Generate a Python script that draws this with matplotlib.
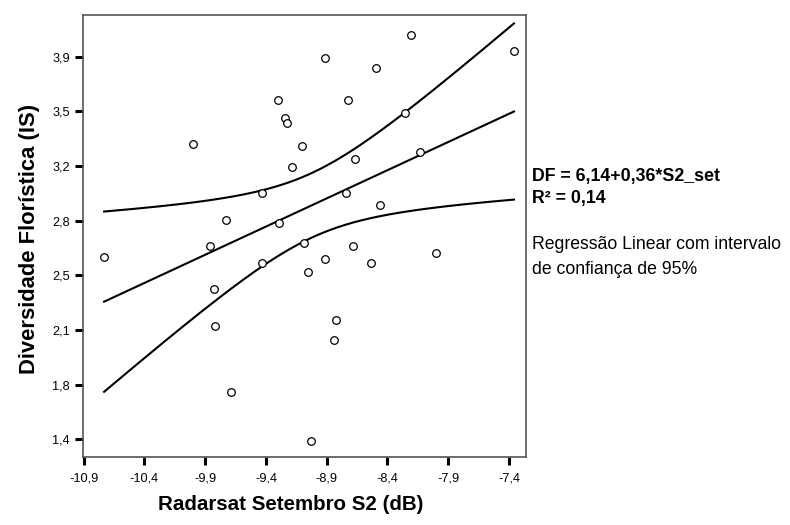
import numpy as np
import matplotlib
matplotlib.use("Agg")
import matplotlib.pyplot as plt

plt.rcParams['font.family'] = ['Liberation Sans', 'DejaVu Sans']

# valores
s2_set = [-10.731, -9.999, -9.859, -9.831, -9.820, -9.732, -9.683, -9.431, -9.431,
          -9.302, -9.294, -9.239, -9.226, -9.189, -9.099, -9.088, -9.050, -9.025,
          -8.913, -8.910, -8.836, -8.825, -8.745, -8.721, -8.685, -8.671, -8.535,
          -8.494, -8.458, -8.255, -8.203, -8.129, -8.003, -7.359]
df_is = [2.565, 3.290, 2.636, 2.360, 2.125, 2.807, 1.703, 2.979, 2.527,
         3.574, 2.783, 3.457, 3.427, 3.145, 3.280, 2.655, 2.469, 1.391,
         3.839, 2.556, 2.038, 2.164, 2.979, 3.574, 2.636, 3.193, 2.527,
         3.779, 2.900, 3.487, 3.986, 3.241, 2.595, 3.888]

xticks = [-10.9, -10.4, -9.9, -9.4, -8.9, -8.4, -7.9, -7.4]
xtick_labels = ['-10,9', '-10,4', '-9,9', '-9,4', '-8,9', '-8,4', '-7,9', '-7,4']
yticks = [1.4, 1.75, 2.1, 2.45, 2.8, 3.15, 3.5, 3.85]
ytick_labels = ['1,4', '1,8', '2,1', '2,5', '2,8', '3,2', '3,5', '3,9']

t_crit = 2.037  # t(0.975, 32)

x = np.array(s2_set)
y = np.array(df_is)
n = len(x)
b1, b0 = np.polyfit(x, y, 1)
resid = y - (b0 + b1 * x)
s = np.sqrt(np.sum(resid ** 2) / (n - 2))
sxx = np.sum((x - x.mean()) ** 2)

xf = np.linspace(x.min(), x.max(), 200)
yf = b0 + b1 * xf
half = t_crit * s * np.sqrt(1.0 / n + (xf - x.mean()) ** 2 / sxx)

fig = plt.figure(figsize=(7.9, 5.25), dpi=100)
ax = fig.add_axes([0.105, 0.130, 0.5604, 0.8414])

ax.plot(xf, yf, color='black', lw=1.5)
ax.plot(xf, yf + half, color='black', lw=1.5)
ax.plot(xf, yf - half, color='black', lw=1.5)
ax.scatter(x, y, s=30, facecolors='white', edgecolors='black', linewidths=0.9, zorder=3)

ax.set_xlim(-10.905, -7.263)
ax.set_ylim(1.289, 4.117)
ax.set_xticks(xticks)
ax.set_xticklabels(xtick_labels)
ax.set_yticks(yticks)
ax.set_yticklabels(ytick_labels)
ax.tick_params(direction='out', length=6, width=2.2, color='black', labelsize=9.2, pad=3.5)
ax.tick_params(axis='x', pad=5.5)

for sp in ax.spines.values():
    sp.set_color('#555555')
    sp.set_linewidth(1.2)

ax.set_xlabel('Radarsat Setembro S2 (dB)', fontsize=14.8, fontweight='bold', va='center')
ax.xaxis.set_label_coords(0.469, -0.109)
ax.set_ylabel('Diversidade Florística (IS)', fontsize=15.8, fontweight='bold', va='center')
ax.yaxis.set_label_coords(-0.120, 0.493)

fig.text(0.673, 0.663, 'DF = 6,14+0,36*S2_set', fontsize=12.8, fontweight='bold', va='center')
fig.text(0.673, 0.622, 'R² = 0,14', fontsize=12.8, fontweight='bold', va='center')
fig.text(0.673, 0.535, 'Regressão Linear com intervalo', fontsize=12.7, va='center')
fig.text(0.673, 0.487, 'de confiança de 95%', fontsize=12.7, va='center')

fig.savefig('out.png', dpi=100, facecolor='white')
